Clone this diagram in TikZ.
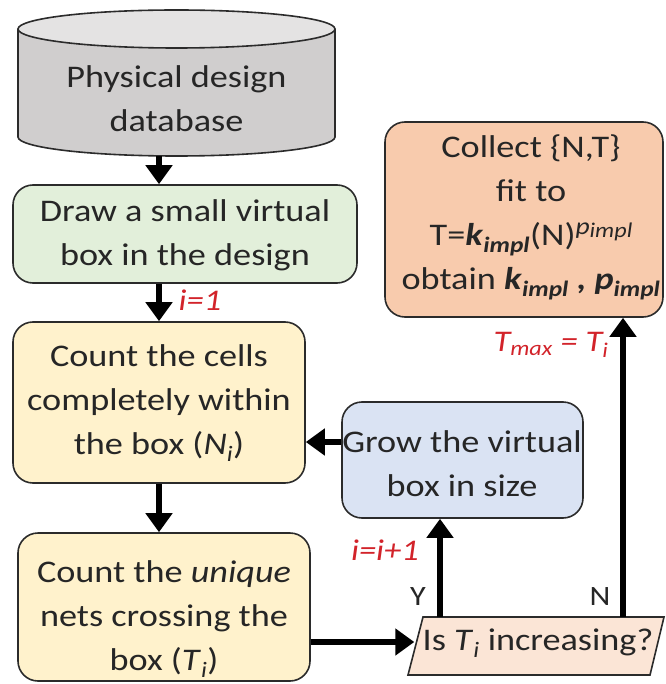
\documentclass[tikz,border=0pt]{standalone}
\usepackage{fontspec}
\setmainfont{Carlito}[FakeStretch=1.15]
\usetikzlibrary{arrows.meta}
\definecolor{cgreen}{HTML}{E2EFDA}
\definecolor{cyellow}{HTML}{FFF2CC}
\definecolor{cblue}{HTML}{DAE3F3}
\definecolor{corange}{HTML}{F8CBAD}
\definecolor{cpeach}{HTML}{FBE5D6}
\definecolor{cbody}{HTML}{D0CECE}
\definecolor{ctop}{HTML}{E4E3E3}
\definecolor{cred}{HTML}{D2232A}
\definecolor{cline}{HTML}{2B2B2B}
\begin{document}
\begin{tikzpicture}[x=1pt,y=-1pt,
  box/.style={draw=cline, line width=1.6pt, rounded corners=20pt, inner sep=0pt},
  txt/.style={align=center, inner sep=0pt, font=\fontsize{31.5}{44}\selectfont, text=black!85},
  arr/.style={line width=6pt, -{Triangle[length=19pt,width=26pt]}},
  lab/.style={font=\fontsize{30}{32}\selectfont\itshape, text=cred, inner sep=0pt},
  yn/.style={font=\fontsize{28}{30}\selectfont, text=black!85, inner sep=0pt}]
\useasboundingbox (0,0) rectangle (665,684);
% database cylinder
\filldraw[fill=cbody, draw=cline, line width=1.6pt] (18,29) -- (18,137)
  arc[start angle=180, end angle=360, x radius=158.5pt, y radius=19pt] -- (335,29);
\filldraw[fill=ctop, draw=cline, line width=1.6pt] (176.5,29) ellipse [x radius=158.5pt, y radius=19pt];
\node[minimum width=317pt, minimum height=146pt, inner sep=0pt] (db) at (176.5,83) {};
\node[txt] (dbt) at (176.5,99) {Physical design\\database};
% boxes
\node[box, fill=cgreen, minimum width=344pt, minimum height=98pt] (green) at (185,234) {};
\node[txt] (greent) at (185,235) {Draw a small virtual\\box in the design};
\node[box, fill=cyellow, minimum width=292pt, minimum height=161pt] (yel1) at (159,402.5) {};
\node[txt] (yel1t) at (159,403) {Count the cells\\completely within\\the box (\textit{N}\textsubscript{\textit{i}})};
\node[box, fill=cyellow, minimum width=292pt, minimum height=148pt] (yel2) at (164,607) {};
\node[txt] (yel2t) at (164,619) {Count the \textit{unique}\\nets crossing the\\box (\textit{T}\textsubscript{\textit{i}})};
\node[box, fill=cblue, minimum width=241pt, minimum height=116pt] (blue) at (462.5,460) {};
\node[txt] (bluet) at (462,464) {Grow the virtual\\box in size};
\node[box, fill=corange, minimum width=278pt, minimum height=195pt] (orange) at (524,219.5) {};
\node[txt] (oranget) at (531,217) {Collect \{N,T\}\\fit to\\T=\textbf{\textit{k}}\textsubscript{\textbf{\textit{impl}}}(N)\raisebox{11pt}{\fontsize{24}{24}\selectfont\textit{p}\raisebox{-3pt}{\fontsize{21}{21}\selectfont\textit{impl}}}\\obtain \textbf{\textit{k}}\textsubscript{\textbf{\textit{impl}}} \textbf{\textit{,}} \textbf{\textit{p}}\textsubscript{\textbf{\textit{impl}}}};
% decision parallelogram
\filldraw[fill=cpeach, draw=cline, line width=1.6pt] (423,617) -- (664,617) -- (650,675) -- (408,675) -- cycle;
\node[minimum width=257pt, minimum height=58pt, inner sep=0pt] (para) at (536,646) {};
\node[txt] (parat) at (538,643) {Is \textit{T}\textsubscript{\textit{i}} increasing?};
% connectors
\coordinate (yx) at (440,0);
\coordinate (nx) at (623,0);
\draw[arr] (db.south -| yel1.north) -- (green.north -| yel1.north);
\draw[arr] (green.south -| yel1.north) -- (yel1.north);
\draw[arr] (yel1.south) -- (yel2.north -| yel1.south);
\draw[arr] ([yshift=18pt]blue.west) -- ([yshift=18pt]blue.west -| yel1.east);
\draw[arr] ([yshift=4pt]yel2.east |- para.west) -- ([xshift=7pt,yshift=4pt]para.west);
\draw[arr] (yx |- para.north) -- (yx |- blue.south);
\draw[arr] (nx |- para.north) -- (nx |- orange.south);
% labels
\node[lab] (l1) at (200,300) {i=1};
\node[lab] (l2) at (385,550) {i=i+1};
\node[lab] (l3) at (551,345) {T\textsubscript{max} = T\textsubscript{i}};
\node[yn] (ly) at (418,597) {Y};
\node[yn] (ln) at (600,597) {N};
\end{tikzpicture}
\end{document}
